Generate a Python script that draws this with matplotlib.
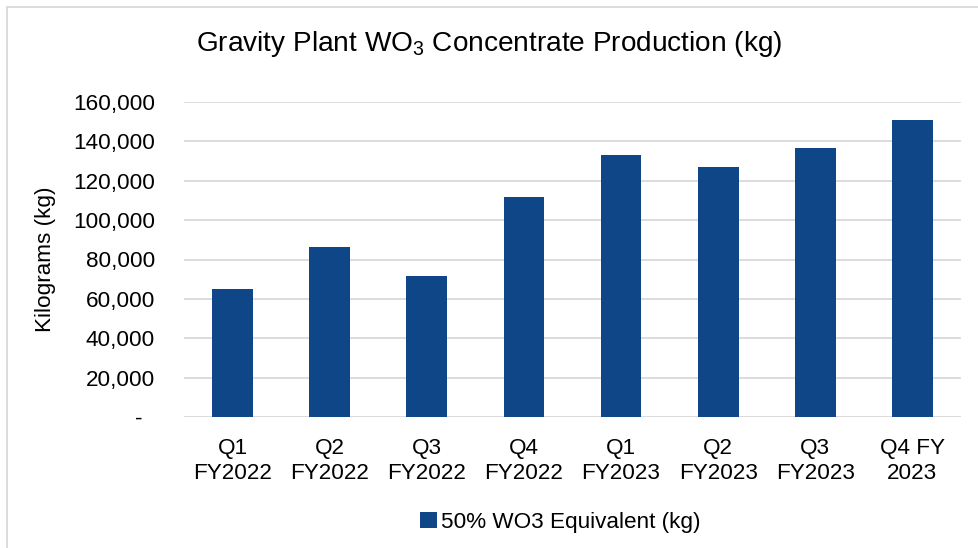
import matplotlib.pyplot as plt
from matplotlib.ticker import FuncFormatter, MultipleLocator
from matplotlib.patches import Rectangle

# Datos
trimestres = ['Q1\nFY2022', 'Q2\nFY2022', 'Q3\nFY2022', 'Q4\nFY2022',
              'Q1\nFY2023', 'Q2\nFY2023', 'Q3\nFY2023', 'Q4 FY\n2023']
produccion_kg = [65000, 86500, 71500, 111700, 133000, 126900, 136700, 150900]
serie_nombre = '50% WO3 Equivalent (kg)'

AZUL = '#0e4687'
GRIS = '#d9d9d9'

plt.rcParams['font.family'] = ['Liberation Sans', 'DejaVu Sans']
plt.rcParams['mathtext.fontset'] = 'custom'
plt.rcParams['mathtext.rm'] = 'Liberation Sans'
plt.rcParams['mathtext.it'] = 'Liberation Sans:italic'
plt.rcParams['mathtext.bf'] = 'Liberation Sans:bold'

FS = 16.2

fig = plt.figure(figsize=(9.79, 5.48), dpi=100)
ax = fig.add_axes([184 / 979, 1 - 417 / 548, (961 - 184) / 979, (417 - 102) / 548])

x = range(len(trimestres))
ax.bar(x, produccion_kg, width=0.42, color=AZUL, label=serie_nombre, zorder=3)

ax.set_xlim(-0.5, len(trimestres) - 0.5)
ax.set_ylim(0, 160000)
ax.yaxis.set_major_locator(MultipleLocator(20000))
ax.yaxis.set_major_formatter(FuncFormatter(lambda v, p: '-  ' if v == 0 else f'{v:,.0f}'))
ax.set_xticks(list(x))
ax.set_xticklabels(trimestres, fontsize=FS, linespacing=1.25)
ax.tick_params(axis='y', labelsize=FS, length=0, pad=21)
ax.tick_params(axis='x', length=0, pad=15)

ax.grid(axis='y', color=GRIS, linewidth=1.3, zorder=0)
for s in ax.spines.values():
    s.set_visible(False)

ax.set_ylabel('Kilograms (kg)', fontsize=FS)
ax.yaxis.set_label_coords((56 - 184) / 777, 0.5)

fig.text(0.5, 1 - 44 / 548, r'Gravity Plant WO$_3$ Concentrate Production (kg)',
         ha='center', va='center', fontsize=20.2)

ax.legend(loc='center', bbox_to_anchor=(0.484, -0.335), frameon=False,
          fontsize=FS, handlelength=0.75, handleheight=0.75, handletextpad=0.2)

# Borde del área del gráfico (solo se ven los lados izquierdo y superior)
fig.patches.append(Rectangle((7 / 979, -0.05), 1.2, 1 - 7 / 548 + 0.05,
                             transform=fig.transFigure, fill=False,
                             edgecolor=GRIS, linewidth=1.3))

fig.savefig('out.png', dpi=100)
